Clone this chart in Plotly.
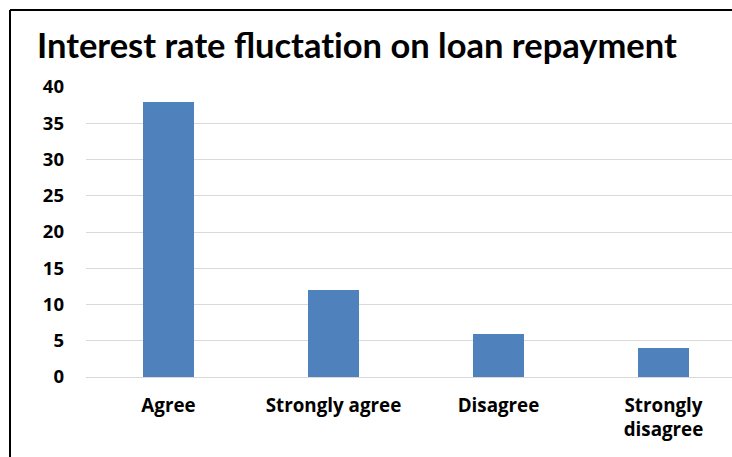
import plotly.graph_objects as go

categories = ["Agree", "Strongly agree", "Disagree", "Strongly<br>disagree"]
values = [38, 12, 6, 4]
y_ticks = [0, 5, 10, 15, 20, 25, 30, 35, 40]
title_text = "Interest rate fluctat\u200cion on loan repayment"

W, H = 732, 457
ML, MR, MT, MB = 86, 0, 87, 80
pw = W - ML - MR
ph = H - MT - MB

fig = go.Figure(go.Bar(
    x=list(range(len(categories))), y=values,
    marker=dict(color="#4F81BD", line=dict(width=0)),
    width=0.315,
))

title_font = "Lato, 'Open Sans', sans-serif"
tick_font = "'Open Sans', Lato, sans-serif"

# frame lines (left and top) in paper coordinates
bx = (10 - ML) / pw
by = 1 + (MT - 10) / ph
fig.add_shape(type="line", xref="paper", yref="paper", x0=bx, x1=bx, y0=by, y1=-MB / ph - 0.1,
              line=dict(color="#000000", width=2))
fig.add_shape(type="line", xref="paper", yref="paper", x0=bx, x1=1.2, y0=by, y1=by,
              line=dict(color="#000000", width=2))

fig.update_layout(
    width=W, height=H,
    margin=dict(l=ML, r=MR, t=MT, b=MB),
    paper_bgcolor="white", plot_bgcolor="white",
    showlegend=False,
    title=dict(text="<b>%s</b>" % title_text,
               x=37 / W, xanchor="left", y=1 - 46 / H, yanchor="middle",
               font=dict(family=title_font, size=34.5, color="#000000")),
    font=dict(family=tick_font, color="#000000"),
    bargap=0,
)
fig.update_xaxes(
    tickmode="array", tickvals=list(range(len(categories))),
    ticktext=["<b>%s</b>" % c for c in categories],
    range=[-0.5, -0.5 + pw / 165.0],
    showgrid=False, zeroline=False, showline=False, ticks="",
    tickfont=dict(family=tick_font, size=18.8, color="#000000"),
    ticklabelstandoff=15,
)
fig.update_yaxes(
    range=[0, 40], tickmode="array", tickvals=y_ticks,
    ticktext=["<b>%d</b>" % v for v in y_ticks],
    showgrid=True, gridcolor="#d9d9d9", gridwidth=1,
    zeroline=True, zerolinecolor="#d9d9d9", zerolinewidth=1,
    showline=False, ticks="",
    tickfont=dict(family=tick_font, size=18.5, color="#000000"),
    ticklabelstandoff=21,
)

fig.write_html("out.html")
